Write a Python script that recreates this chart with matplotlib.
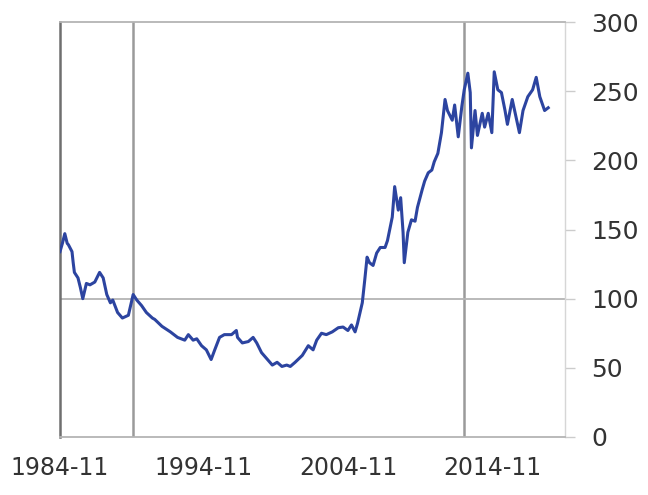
import matplotlib.pyplot as plt

# ----------------- data (months since 1984-11) ------------------------ #
months = [0, 2, 4, 6, 7, 10, 11, 12, 15, 17, 19, 22, 25, 29, 33, 36, 39, 42, 44,
          48, 52, 57, 61, 64, 68, 72, 77, 79, 85, 92, 98, 104, 107, 111, 114,
          118, 122, 126, 129, 133, 137, 143, 147, 148, 152, 157, 161, 164, 168,
          172, 177, 181, 185, 189, 192, 196, 202, 207, 211, 214, 218, 222, 227,
          232, 236, 240, 243, 246, 248, 252, 254, 256, 258, 261, 264, 267, 271,
          273, 277, 279, 282, 284, 286, 287, 290, 293, 296, 298, 302, 304, 307,
          310, 312, 315, 318, 321, 323, 327, 329, 332, 335, 337, 340, 342, 343,
          346, 348, 352, 354, 357, 360, 362, 365, 368, 371, 373, 377, 379, 383,
          386, 390, 394, 397, 400, 404, 407]
values = [134, 140, 147, 140, 139, 134, 126, 119, 115, 108, 100, 111, 110, 112,
          119, 115, 103, 97, 99, 90, 86, 88, 103, 99, 95, 90, 86, 85, 80, 76,
          72, 70, 74, 70, 71, 66, 63, 56, 63, 72, 74, 74, 77, 72, 68, 69, 72,
          68, 61, 57, 52, 54, 51, 52, 51, 54, 59, 66, 63, 70, 75, 74, 76, 79,
          79.5, 77, 81, 76, 82, 97, 113, 130, 126, 124, 133, 137, 137, 142,
          159, 181, 164, 173, 148, 126, 148, 157, 156, 166, 179, 185, 191, 193,
          199, 205, 220, 244, 236, 229, 240, 217, 239, 251, 263, 249, 209, 236,
          218, 234, 224, 234, 220, 264, 251, 249, 236, 226, 244, 236, 220, 236,
          246, 251, 260, 246, 236, 238]

tick_months = [0, 120, 240, 360]
tick_labels = ["1984-11", "1994-11", "2004-11", "2014-11"]
marker_months = [61, 337]
yticks = [0, 50, 100, 150, 200, 250, 300]

# ----------------- figure --------------------------------------------- #
plt.rcParams['font.family'] = ['DejaVu Sans']

fig = plt.figure(figsize=(6.48, 4.95), dpi=100)
ax = fig.add_axes([60 / 648, 58 / 495, 505 / 648, 415 / 495])

for m in marker_months:
    ax.axvline(m, color='#9a9a9a', lw=1.8, zorder=1)
ax.axhline(100, color='#b4b4b4', lw=1.3, zorder=1)

ax.plot(months, values, color='#2c44a0', lw=2.2, zorder=3)

ax.set_xlim(0, 421)
ax.set_ylim(0, 300)

ax.yaxis.tick_right()
ax.set_yticks(yticks)
ax.set_yticklabels([str(v) for v in yticks])
ax.set_xticks(tick_months)
ax.set_xticklabels(tick_labels)

ax.tick_params(axis='y', length=7, width=1.0, color='#cccccc', pad=12,
               labelsize=18, labelcolor='#333333')
ax.tick_params(axis='x', length=0, pad=14, labelsize=17, labelcolor='#333333')

ax.spines['left'].set_color('#6f6f6f')
ax.spines['left'].set_linewidth(1.8)
ax.spines['right'].set_color('#d6d6d6')
ax.spines['right'].set_linewidth(1.0)
ax.spines['top'].set_color('#b4b4b4')
ax.spines['top'].set_linewidth(1.3)
ax.spines['bottom'].set_color('#b4b4b4')
ax.spines['bottom'].set_linewidth(1.3)

fig.savefig('out.png', dpi=100)
